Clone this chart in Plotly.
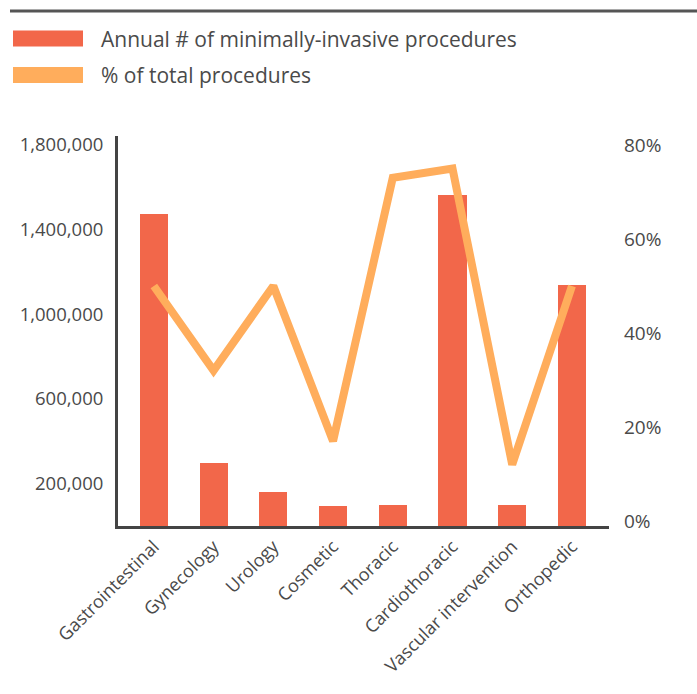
import plotly.graph_objects as go

# Specialties and their figures
categories = ["Gastrointestinal", "Gynecology", "Urology", "Cosmetic", "Thoracic",
              "Cardiothoracic", "Vascular intervention", "Orthopedic"]
annual_procedures = [1474000, 298000, 160000, 94000, 99000, 1564000, 99000, 1139000]
pct_of_total = [50, 32, 50, 17, 73, 75, 12, 50]

left_ticks = [200000, 600000, 1000000, 1400000, 1800000]
right_ticks = [0, 20, 40, 60, 80]

bar_name = "Annual # of minimally-invasive procedures"
line_name = "% of total procedures"

BAR_COLOR = "#F2674A"
LINE_COLOR = "#FFAD5C"
TEXT_COLOR = "#4A4A4A"
AXIS_COLOR = "#444444"
FONT = "Open Sans, Lato, sans-serif"

W, H = 697, 694
ML, MR, MT, MB = 118, 88, 136, 168
PW, PH = W - ML - MR, H - MT - MB


def px_to_paper(x, y):
    return (x - ML) / PW, (H - MB - y) / PH


fig = go.Figure()
fig.add_trace(go.Bar(
    x=categories, y=annual_procedures, name=bar_name,
    marker=dict(color=BAR_COLOR, line=dict(width=0)), width=0.47,
    showlegend=False,
))
fig.add_trace(go.Scatter(
    x=categories, y=pct_of_total, name=line_name, yaxis="y2",
    mode="lines", line=dict(color=LINE_COLOR, width=8),
    showlegend=False,
))

# Custom legend: wide swatches with labels
shapes = []
annotations = []
legend_rows = [(bar_name, BAR_COLOR, 38.5), (line_name, LINE_COLOR, 75)]
for name, color, cy in legend_rows:
    x0, y0 = px_to_paper(13, cy - 8)
    x1, y1 = px_to_paper(83, cy + 8)
    shapes.append(dict(type="rect", xref="paper", yref="paper",
                       x0=x0, x1=x1, y0=y0, y1=y1,
                       fillcolor=color, line=dict(width=0)))
    tx, ty = px_to_paper(99, cy)
    annotations.append(dict(text=name, xref="paper", yref="paper", x=tx, y=ty,
                            xanchor="left", yanchor="middle", showarrow=False,
                            font=dict(size=21, color=TEXT_COLOR, family=FONT)))

# Rule across the top
rx0, ry = px_to_paper(10, 11)
rx1, _ = px_to_paper(W, 11)
shapes.append(dict(type="line", xref="paper", yref="paper",
                   x0=rx0, x1=rx1, y0=ry, y1=ry,
                   line=dict(color="#555555", width=3)))

fig.update_layout(
    width=W, height=H,
    margin=dict(l=ML, r=MR, t=MT, b=MB),
    paper_bgcolor="white", plot_bgcolor="white",
    font=dict(family=FONT, color=TEXT_COLOR),
    bargap=0,
    shapes=shapes,
    annotations=annotations,
    xaxis=dict(
        range=[-0.6, 7.62], showgrid=False, zeroline=False,
        showline=True, linecolor=AXIS_COLOR, linewidth=3,
        ticks="", tickangle=-45, tickfont=dict(size=18, color=TEXT_COLOR),
    ),
    yaxis=dict(
        range=[0, 1842500], showgrid=False, zeroline=False,
        showline=True, linecolor=AXIS_COLOR, linewidth=3,
        tickvals=left_ticks, ticktext=[f"{v:,}" for v in left_ticks],
        ticks="", ticklabelstandoff=8,
        tickfont=dict(size=18.5, color=TEXT_COLOR),
    ),
    yaxis2=dict(
        overlaying="y", side="right", range=[-1.06, 81.9],
        showgrid=False, zeroline=False, showline=False,
        tickvals=right_ticks, ticktext=[f"{v}%" for v in right_ticks],
        ticks="", ticklabelstandoff=14,
        tickfont=dict(size=19, color=TEXT_COLOR),
    ),
)

fig.write_html("out.html")
